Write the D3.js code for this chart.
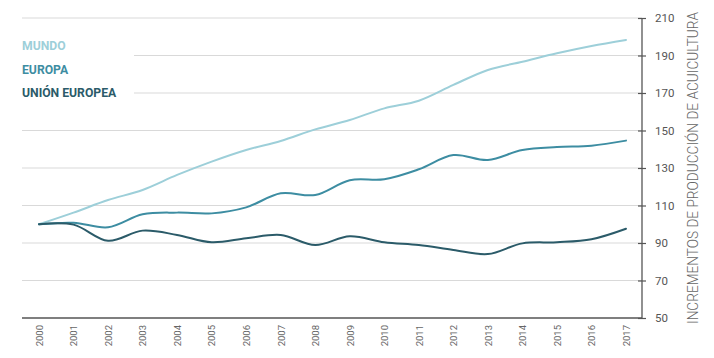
<!DOCTYPE html>
<html><head><meta charset="utf-8">
<script src="https://cdn.jsdelivr.net/npm/d3@7"></script>
<style>body{margin:0;background:#fff}svg{display:block}</style>
</head><body>
<svg id="c" width="714" height="358"></svg>
<script>
const years = ["2000","2001","2002","2003","2004","2005","2006","2007","2008","2009","2010","2011","2012","2013","2014","2015","2016","2017"];
const mundo = [100,106.2,112.9,118.3,126.3,133.4,139.6,144.4,150.6,155.6,161.8,165.9,174.3,182.3,186.7,191.2,195.1,198.3];
const europa = [100,100.8,98.4,105.3,106.2,105.8,109,116.5,115.6,123.5,124,129.3,136.9,134.3,139.6,141.2,141.9,144.6];
const ue = [100,99.8,91.2,96.6,94.3,90.4,92.5,94.3,88.9,93.6,90.4,88.9,86.3,84.1,89.8,90.4,92,97.6];
const yTicks = [50,70,90,110,130,150,170,190,210];
const seriesNames = ["MUNDO","EUROPA","UNIÓN EUROPEA"];
const colors = ["#9dcfd9","#3d8da2","#2b5b69"];
const axisTitle = "INCREMENTOS DE PRODUCCIÓN DE ACUICULTURA";

const svg = d3.select("#c");
const font = "Roboto, 'Noto Sans', sans-serif";
const x = d3.scalePoint().domain(years).range([39, 626]);
const y = d3.scaleLinear().domain([50, 210]).range([318, 18]);
const left = 22, right = 642;

// gridlines
svg.append("g").selectAll("line").data(yTicks.filter(d => d > 50)).join("line")
  .attr("x1", left).attr("x2", right)
  .attr("y1", d => y(d)).attr("y2", d => y(d))
  .attr("stroke", "#d9d9d9").attr("stroke-width", 1);

// legend background
svg.append("rect").attr("x", 0).attr("y", 30).attr("width", 134).attr("height", 72).attr("fill", "#fff");

// lines
const line = d3.line().x((d, i) => x(years[i])).y(d => y(d)).curve(d3.curveCatmullRom.alpha(0.5));
[mundo, europa, ue].forEach((s, k) => {
  svg.append("path").datum(s).attr("d", line)
    .attr("fill", "none").attr("stroke", colors[k]).attr("stroke-width", 2)
    .attr("stroke-linejoin", "round").attr("stroke-linecap", "round");
});

// right axis
const yAxis = d3.axisRight(y).tickValues(yTicks).tickSize(3).tickPadding(10);
const ga = svg.append("g").attr("transform", `translate(${right},0)`).call(yAxis);
ga.select(".domain").remove();
ga.selectAll(".tick line").attr("x1", -4).attr("x2", 4).attr("stroke", "#555").attr("stroke-width", 1.2);
ga.selectAll(".tick text").attr("x", 13).attr("fill", "#555").attr("font-size", 11.5).attr("font-family", font);
svg.append("line").attr("x1", right).attr("x2", right).attr("y1", y(210)).attr("y2", y(50))
  .attr("stroke", "#555").attr("stroke-width", 1.3);

// bottom axis
svg.append("line").attr("x1", left).attr("x2", right).attr("y1", 318).attr("y2", 318)
  .attr("stroke", "#555").attr("stroke-width", 1.3);
const xAxis = d3.axisBottom(x).tickSize(0);
const gx = svg.append("g").attr("transform", "translate(0,318)").call(xAxis);
gx.select(".domain").remove();
gx.selectAll(".tick text")
  .attr("transform", "rotate(-90)")
  .attr("x", -7).attr("y", 0).attr("dy", "0.35em")
  .attr("text-anchor", "end")
  .attr("fill", "#666").attr("font-size", 9.5).attr("font-family", font);

// axis title
svg.append("text").attr("transform", "translate(698,168) rotate(-90)")
  .attr("text-anchor", "middle").attr("fill", "#666")
  .attr("font-size", 14).attr("font-weight", 300).attr("font-family", font)
  .attr("textLength", 312).attr("lengthAdjust", "spacingAndGlyphs")
  .text(axisTitle);

// legend
svg.append("g").selectAll("text").data(seriesNames).join("text")
  .attr("x", 22).attr("y", (d, i) => 50 + i * 23.5)
  .attr("fill", (d, i) => colors[i])
  .attr("font-size", 12.2).attr("font-weight", 700).attr("font-family", font)
  .text(d => d);
</script>
</body></html>
